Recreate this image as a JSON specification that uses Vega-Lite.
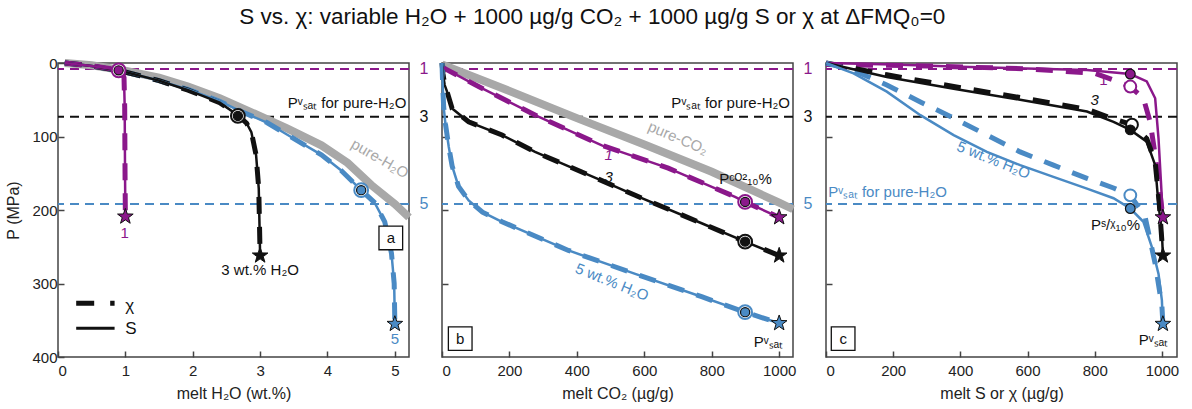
{
  "$schema": "https://vega.github.io/schema/vega-lite/v6.json",
  "title": {"text": "S vs. χ: variable H₂O + 1000 µg/g CO₂ + 1000 µg/g S or χ at ΔFMQ₀=0", "fontSize": 22.5, "fontWeight": "normal", "color": "#111", "anchor": "middle", "offset": 18},
  "config": {
    "font": "Liberation Sans",
    "view": {"stroke": "#444", "strokeWidth": 1.5},
    "axis": {"grid": false, "domain": false, "tickSize": -6, "tickColor": "#444", "tickWidth": 1.5, "labelFontSize": 15, "labelColor": "#222", "titleFontSize": 16, "titleFontWeight": "normal", "titleColor": "#222", "labelPadding": 12, "titlePadding": 7}
  },
  "datasets": {
    "psat": [{"series": "1", "P": 8.2}, {"series": "3", "P": 73}, {"series": "5", "P": 192}],
    "a_curves": [
      {"series": "pure", "x": 0.1, "P": 0}, {"series": "pure", "x": 0.5, "P": 3}, {"series": "pure", "x": 0.94, "P": 9.5}, {"series": "pure", "x": 1.5, "P": 20}, {"series": "pure", "x": 1.93, "P": 32}, {"series": "pure", "x": 2.4, "P": 48}, {"series": "pure", "x": 2.92, "P": 69}, {"series": "pure", "x": 3.4, "P": 89}, {"series": "pure", "x": 3.91, "P": 112}, {"series": "pure", "x": 4.3, "P": 136}, {"series": "pure", "x": 4.65, "P": 166}, {"series": "pure", "x": 5.0, "P": 192}, {"series": "pure", "x": 5.21, "P": 210},
      {"series": "5", "x": 0.1, "P": 0}, {"series": "5", "x": 0.5, "P": 4}, {"series": "5", "x": 0.94, "P": 11}, {"series": "5", "x": 1.5, "P": 24}, {"series": "5", "x": 1.93, "P": 36}, {"series": "5", "x": 2.4, "P": 52}, {"series": "5", "x": 2.72, "P": 66}, {"series": "5", "x": 3.1, "P": 81}, {"series": "5", "x": 3.41, "P": 98}, {"series": "5", "x": 3.91, "P": 125}, {"series": "5", "x": 4.2, "P": 146}, {"series": "5", "x": 4.5, "P": 173}, {"series": "5", "x": 4.7, "P": 190}, {"series": "5", "x": 4.85, "P": 216}, {"series": "5", "x": 4.95, "P": 259}, {"series": "5", "x": 4.99, "P": 300}, {"series": "5", "x": 5.0, "P": 355},
      {"series": "3", "x": 0.1, "P": 0}, {"series": "3", "x": 0.5, "P": 4}, {"series": "3", "x": 0.94, "P": 11}, {"series": "3", "x": 1.5, "P": 24}, {"series": "3", "x": 1.93, "P": 37}, {"series": "3", "x": 2.4, "P": 54}, {"series": "3", "x": 2.67, "P": 71}, {"series": "3", "x": 2.8, "P": 82}, {"series": "3", "x": 2.87, "P": 94}, {"series": "3", "x": 2.94, "P": 125}, {"series": "3", "x": 2.98, "P": 171}, {"series": "3", "x": 3.0, "P": 262},
      {"series": "1", "x": 0.1, "P": 0}, {"series": "1", "x": 0.5, "P": 4}, {"series": "1", "x": 0.85, "P": 8.5}, {"series": "1", "x": 0.95, "P": 12}, {"series": "1", "x": 0.98, "P": 20}, {"series": "1", "x": 0.99, "P": 60}, {"series": "1", "x": 0.995, "P": 150}, {"series": "1", "x": 1.0, "P": 209}
    ],
    "a_legend": [{"kind": "χ", "x": 0.27, "P": 327}, {"kind": "χ", "x": 0.84, "P": 327}, {"kind": "S", "x": 0.27, "P": 361}, {"kind": "S", "x": 0.84, "P": 361}],
    "b_curves": [
      {"series": "pure", "x": 0, "P": 2}, {"series": "pure", "x": 200, "P": 38}, {"series": "pure", "x": 400, "P": 75}, {"series": "pure", "x": 600, "P": 111}, {"series": "pure", "x": 800, "P": 148}, {"series": "pure", "x": 1000, "P": 190}, {"series": "pure", "x": 1041, "P": 199},
      {"series": "1", "x": 0, "P": 5}, {"series": "1", "x": 10, "P": 8}, {"series": "1", "x": 100, "P": 30}, {"series": "1", "x": 286, "P": 73}, {"series": "1", "x": 474, "P": 112}, {"series": "1", "x": 671, "P": 143}, {"series": "1", "x": 869, "P": 182}, {"series": "1", "x": 899, "P": 189}, {"series": "1", "x": 1000, "P": 210},
      {"series": "3", "x": 0, "P": 0}, {"series": "3", "x": 3, "P": 15}, {"series": "3", "x": 8, "P": 30}, {"series": "3", "x": 15, "P": 39}, {"series": "3", "x": 30, "P": 62}, {"series": "3", "x": 79, "P": 80}, {"series": "3", "x": 178, "P": 98}, {"series": "3", "x": 276, "P": 121}, {"series": "3", "x": 474, "P": 160}, {"series": "3", "x": 573, "P": 180}, {"series": "3", "x": 770, "P": 218}, {"series": "3", "x": 899, "P": 243}, {"series": "3", "x": 1000, "P": 262},
      {"series": "5", "x": 0, "P": 0}, {"series": "5", "x": 2, "P": 30}, {"series": "5", "x": 5, "P": 60}, {"series": "5", "x": 10, "P": 82}, {"series": "5", "x": 20, "P": 114}, {"series": "5", "x": 30, "P": 140}, {"series": "5", "x": 49, "P": 168}, {"series": "5", "x": 79, "P": 187}, {"series": "5", "x": 120, "P": 203}, {"series": "5", "x": 178, "P": 216}, {"series": "5", "x": 375, "P": 255}, {"series": "5", "x": 573, "P": 287}, {"series": "5", "x": 770, "P": 318}, {"series": "5", "x": 899, "P": 339}, {"series": "5", "x": 1000, "P": 354}
    ],
    "c_curves": [
      {"series": "1", "kind": "χ", "x": 0, "P": 2}, {"series": "1", "kind": "χ", "x": 300, "P": 4}, {"series": "1", "kind": "χ", "x": 600, "P": 8}, {"series": "1", "kind": "χ", "x": 800, "P": 14}, {"series": "1", "kind": "χ", "x": 856, "P": 23}, {"series": "1", "kind": "χ", "x": 906, "P": 32}, {"series": "1", "kind": "χ", "x": 945, "P": 48}, {"series": "1", "kind": "χ", "x": 965, "P": 80}, {"series": "1", "kind": "χ", "x": 980, "P": 125}, {"series": "1", "kind": "χ", "x": 995, "P": 180}, {"series": "1", "kind": "χ", "x": 1003, "P": 210},
      {"series": "3", "kind": "χ", "x": 0, "P": 0}, {"series": "3", "kind": "χ", "x": 181, "P": 16}, {"series": "3", "kind": "χ", "x": 380, "P": 32}, {"series": "3", "kind": "χ", "x": 578, "P": 47}, {"series": "3", "kind": "χ", "x": 777, "P": 63}, {"series": "3", "kind": "χ", "x": 856, "P": 76}, {"series": "3", "kind": "χ", "x": 911, "P": 84}, {"series": "3", "kind": "χ", "x": 955, "P": 103}, {"series": "3", "kind": "χ", "x": 980, "P": 135}, {"series": "3", "kind": "χ", "x": 992, "P": 190}, {"series": "3", "kind": "χ", "x": 1003, "P": 262},
      {"series": "5", "kind": "χ", "x": 0, "P": 0}, {"series": "5", "kind": "χ", "x": 82, "P": 10}, {"series": "5", "kind": "χ", "x": 181, "P": 30}, {"series": "5", "kind": "χ", "x": 281, "P": 53}, {"series": "5", "kind": "χ", "x": 380, "P": 75}, {"series": "5", "kind": "χ", "x": 479, "P": 98}, {"series": "5", "kind": "χ", "x": 578, "P": 121}, {"series": "5", "kind": "χ", "x": 677, "P": 139}, {"series": "5", "kind": "χ", "x": 777, "P": 157}, {"series": "5", "kind": "χ", "x": 856, "P": 170}, {"series": "5", "kind": "χ", "x": 906, "P": 180}, {"series": "5", "kind": "χ", "x": 950, "P": 209}, {"series": "5", "kind": "χ", "x": 980, "P": 273}, {"series": "5", "kind": "χ", "x": 1000, "P": 330}, {"series": "5", "kind": "χ", "x": 1003, "P": 355},
      {"series": "1", "kind": "S", "x": 0, "P": 0}, {"series": "1", "kind": "S", "x": 200, "P": 2}, {"series": "1", "kind": "S", "x": 400, "P": 5}, {"series": "1", "kind": "S", "x": 777, "P": 9.5}, {"series": "1", "kind": "S", "x": 906, "P": 15}, {"series": "1", "kind": "S", "x": 955, "P": 25}, {"series": "1", "kind": "S", "x": 980, "P": 48}, {"series": "1", "kind": "S", "x": 990, "P": 103}, {"series": "1", "kind": "S", "x": 997, "P": 160}, {"series": "1", "kind": "S", "x": 1003, "P": 210},
      {"series": "3", "kind": "S", "x": 0, "P": 0}, {"series": "3", "kind": "S", "x": 181, "P": 19}, {"series": "3", "kind": "S", "x": 380, "P": 35}, {"series": "3", "kind": "S", "x": 578, "P": 50}, {"series": "3", "kind": "S", "x": 777, "P": 66}, {"series": "3", "kind": "S", "x": 856, "P": 80}, {"series": "3", "kind": "S", "x": 906, "P": 91}, {"series": "3", "kind": "S", "x": 955, "P": 107}, {"series": "3", "kind": "S", "x": 980, "P": 139}, {"series": "3", "kind": "S", "x": 990, "P": 193}, {"series": "3", "kind": "S", "x": 1000, "P": 230}, {"series": "3", "kind": "S", "x": 1003, "P": 262},
      {"series": "5", "kind": "S", "x": 0, "P": 0}, {"series": "5", "kind": "S", "x": 82, "P": 14}, {"series": "5", "kind": "S", "x": 181, "P": 39}, {"series": "5", "kind": "S", "x": 281, "P": 71}, {"series": "5", "kind": "S", "x": 380, "P": 98}, {"series": "5", "kind": "S", "x": 479, "P": 121}, {"series": "5", "kind": "S", "x": 578, "P": 139}, {"series": "5", "kind": "S", "x": 677, "P": 155}, {"series": "5", "kind": "S", "x": 777, "P": 171}, {"series": "5", "kind": "S", "x": 856, "P": 184}, {"series": "5", "kind": "S", "x": 906, "P": 198}, {"series": "5", "kind": "S", "x": 945, "P": 216}, {"series": "5", "kind": "S", "x": 970, "P": 250}, {"series": "5", "kind": "S", "x": 990, "P": 287}, {"series": "5", "kind": "S", "x": 1000, "P": 323}, {"series": "5", "kind": "S", "x": 1003, "P": 355}
    ],
    "a_marks": [
      {"series": "1", "m": "ring", "x": 0.9, "P": 10}, {"series": "1", "m": "dot", "x": 0.9, "P": 10}, {"series": "1", "m": "star", "x": 1.0, "P": 209},
      {"series": "3", "m": "ring", "x": 2.67, "P": 72}, {"series": "3", "m": "dot", "x": 2.67, "P": 72}, {"series": "3", "m": "star", "x": 3.0, "P": 262},
      {"series": "5", "m": "ring", "x": 4.5, "P": 173}, {"series": "5", "m": "dot", "x": 4.5, "P": 173}, {"series": "5", "m": "star", "x": 5.0, "P": 355}
    ],
    "b_marks": [
      {"series": "1", "m": "ring", "x": 899, "P": 189}, {"series": "1", "m": "dot", "x": 899, "P": 189}, {"series": "1", "m": "star", "x": 1000, "P": 210},
      {"series": "3", "m": "ring", "x": 899, "P": 243}, {"series": "3", "m": "dot", "x": 899, "P": 243}, {"series": "3", "m": "star", "x": 1000, "P": 262},
      {"series": "5", "m": "ring", "x": 899, "P": 339}, {"series": "5", "m": "dot", "x": 899, "P": 339}, {"series": "5", "m": "star", "x": 1000, "P": 354}
    ],
    "c_marks": [
      {"series": "1", "m": "ring", "x": 906, "P": 32}, {"series": "1", "m": "dot", "x": 906, "P": 15}, {"series": "1", "m": "star", "x": 1003, "P": 210},
      {"series": "3", "m": "ring", "x": 911, "P": 84}, {"series": "3", "m": "dot", "x": 906, "P": 91}, {"series": "3", "m": "star", "x": 1003, "P": 262},
      {"series": "5", "m": "ring", "x": 906, "P": 180}, {"series": "5", "m": "dot", "x": 906, "P": 198}, {"series": "5", "m": "star", "x": 1003, "P": 355}
    ],
    "a_notes": [
      {"note": "gap", "series": "1", "x": 5.21, "P": 8.2, "label": "1"}, {"note": "gap", "series": "3", "x": 5.21, "P": 73, "label": "3"}, {"note": "gap", "series": "5", "x": 5.21, "P": 192, "label": "5"},
      {"note": "psat_r", "series": "3", "x": 5.17, "P": 54, "label": "Pᵛₛₐₜ for pure-H₂O"},
      {"note": "band", "series": "pure", "x": 4.78, "P": 130, "label": "pure-H₂O"},
      {"note": "plain", "series": "1", "x": 0.99, "P": 231, "label": "1"}, {"note": "plain", "series": "3", "x": 3.0, "P": 282, "label": "3 wt.% H₂O"}, {"note": "plain", "series": "5", "x": 5.0, "P": 375, "label": "5"},
      {"note": "leg", "series": "3", "x": 1.0, "P": 330, "label": "χ"}, {"note": "leg", "series": "3", "x": 1.0, "P": 362, "label": "S"},
      {"note": "box", "series": "3", "x": 4.94, "P": 238, "label": "a"}
    ],
    "b_notes": [
      {"note": "gap", "series": "1", "x": 1041, "P": 8.2, "label": "1"}, {"note": "gap", "series": "3", "x": 1041, "P": 73, "label": "3"}, {"note": "gap", "series": "5", "x": 1041, "P": 192, "label": "5"},
      {"note": "psat_r", "series": "3", "x": 1032, "P": 54, "label": "Pᵛₛₐₜ for pure-H₂O"},
      {"note": "band", "series": "pure", "x": 700, "P": 102, "label": "pure-CO₂"},
      {"note": "ital", "series": "1", "x": 494, "P": 125, "label": "1"}, {"note": "ital", "series": "3", "x": 494, "P": 155, "label": "3"},
      {"note": "plain", "series": "3", "x": 900, "P": 158, "label": "Pᶜᴼ²₁₀%"}, {"note": "plain", "series": "3", "x": 968, "P": 380, "label": "Pᵛₛₐₜ"},
      {"note": "wt", "series": "5", "x": 504, "P": 298, "label": "5 wt.% H₂O"},
      {"note": "box", "series": "3", "x": 54, "P": 375, "label": "b"}
    ],
    "c_notes": [
      {"note": "plain", "series": "1", "x": 826, "P": 23, "label": "1"}, {"note": "plain", "series": "3", "x": 862, "P": 221, "label": "Pˢ/ᵡ₁₀%"}, {"note": "plain", "series": "3", "x": 975, "P": 377, "label": "Pᵛₛₐₜ"},
      {"note": "ital", "series": "3", "x": 800, "P": 50, "label": "3"},
      {"note": "wt", "series": "5", "x": 499, "P": 132, "label": "5 wt.% H₂O"},
      {"note": "psat_l", "series": "5", "x": 7, "P": 175, "label": "Pᵛₛₐₜ for pure-H₂O"},
      {"note": "box", "series": "3", "x": 51, "P": 375, "label": "c"}
    ]
  },
  "spacing": 33,
  "bounds": "flush",
  "hconcat": [
    {
      "width": 351, "height": 294,
      "layer": [
        {"data": {"name": "psat"}, "mark": {"type": "rule", "strokeDash": [9, 6], "strokeWidth": 2},
         "encoding": {"y": {"field": "P", "type": "quantitative", "scale": {"domain": [0, 400], "reverse": true, "nice": false}, "axis": {"title": "P (MPa)", "values": [0, 100, 200, 300, 400], "titlePadding": 10, "labelPadding": 7}},
                      "color": {"field": "series", "type": "nominal", "scale": {"domain": ["1", "3", "5", "pure"], "range": ["#8B188B", "#111111", "#4A8AC4", "#A8A8A8"]}, "legend": null}}},
        {"data": {"name": "a_curves"}, "transform": [{"filter": "datum.series === 'pure'"}], "mark": {"type": "line", "strokeWidth": 8, "color": "#A8A8A8"},
         "encoding": {"x": {"field": "x", "type": "quantitative", "scale": {"domain": [0, 5.21], "nice": false}, "axis": {"title": "melt H₂O (wt.%)", "values": [0, 1, 2, 3, 4, 5], "format": "d"}}, "y": {"field": "P", "type": "quantitative"}}},
        {"data": {"name": "a_curves"}, "transform": [{"filter": "datum.series !== 'pure'"}], "mark": {"type": "line", "strokeDash": [17, 13], "strokeWidth": 5},
         "encoding": {"x": {"field": "x", "type": "quantitative"}, "y": {"field": "P", "type": "quantitative"}, "color": {"field": "series", "type": "nominal", "legend": null}}},
        {"data": {"name": "a_curves"}, "transform": [{"filter": "datum.series !== 'pure'"}], "mark": {"type": "line", "strokeWidth": 2.5},
         "encoding": {"x": {"field": "x", "type": "quantitative"}, "y": {"field": "P", "type": "quantitative"}, "color": {"field": "series", "type": "nominal", "legend": null}}},
        {"data": {"name": "a_legend"}, "transform": [{"filter": "datum.kind === 'χ'"}], "mark": {"type": "line", "strokeDash": [18, 16], "strokeWidth": 5, "color": "#111"},
         "encoding": {"x": {"field": "x", "type": "quantitative"}, "y": {"field": "P", "type": "quantitative"}}},
        {"data": {"name": "a_legend"}, "transform": [{"filter": "datum.kind === 'S'"}], "mark": {"type": "line", "strokeWidth": 3, "color": "#111"},
         "encoding": {"x": {"field": "x", "type": "quantitative"}, "y": {"field": "P", "type": "quantitative"}}},
        {"data": {"name": "a_marks"}, "transform": [{"filter": "datum.m === 'ring'"}], "mark": {"type": "point", "shape": "circle", "filled": false, "fill": "white", "strokeWidth": 2, "size": 190, "opacity": 1},
         "encoding": {"x": {"field": "x", "type": "quantitative"}, "y": {"field": "P", "type": "quantitative"}, "color": {"field": "series", "type": "nominal", "legend": null}}},
        {"data": {"name": "a_marks"}, "transform": [{"filter": "datum.m === 'dot'"}], "mark": {"type": "point", "shape": "circle", "filled": true, "stroke": "#111", "strokeWidth": 1.2, "size": 85, "opacity": 1},
         "encoding": {"x": {"field": "x", "type": "quantitative"}, "y": {"field": "P", "type": "quantitative"}, "color": {"field": "series", "type": "nominal", "legend": null}}},
        {"data": {"name": "a_marks"}, "transform": [{"filter": "datum.m === 'star'"}], "mark": {"type": "point", "shape": "M0,-1L0.235,-0.324L0.951,-0.309L0.38,0.124L0.588,0.809L0,0.4L-0.588,0.809L-0.38,0.124L-0.951,-0.309L-0.235,-0.324Z", "filled": true, "stroke": "#111", "strokeWidth": 1, "size": 270, "opacity": 1},
         "encoding": {"x": {"field": "x", "type": "quantitative"}, "y": {"field": "P", "type": "quantitative"}, "color": {"field": "series", "type": "nominal", "legend": null}}},
        {"data": {"name": "a_notes"}, "transform": [{"filter": "datum.note === 'box'"}], "mark": {"type": "point", "shape": "square", "filled": true, "fill": "white", "stroke": "#111", "strokeWidth": 1.3, "size": 560, "opacity": 1},
         "encoding": {"x": {"field": "x", "type": "quantitative"}, "y": {"field": "P", "type": "quantitative"}}},
        {"data": {"name": "a_notes"}, "transform": [{"filter": "datum.note === 'gap'"}], "mark": {"type": "text", "dx": 15, "fontSize": 16},
         "encoding": {"x": {"field": "x", "type": "quantitative"}, "y": {"field": "P", "type": "quantitative"}, "text": {"field": "label"}, "color": {"field": "series", "type": "nominal", "legend": null}}},
        {"data": {"name": "a_notes"}, "transform": [{"filter": "datum.note === 'plain' || datum.note === 'box'"}], "mark": {"type": "text", "fontSize": 15},
         "encoding": {"x": {"field": "x", "type": "quantitative"}, "y": {"field": "P", "type": "quantitative"}, "text": {"field": "label"}, "color": {"field": "series", "type": "nominal", "legend": null}}},
        {"data": {"name": "a_notes"}, "transform": [{"filter": "datum.note === 'leg'"}], "mark": {"type": "text", "fontSize": 17, "align": "left"},
         "encoding": {"x": {"field": "x", "type": "quantitative"}, "y": {"field": "P", "type": "quantitative"}, "text": {"field": "label"}, "color": {"field": "series", "type": "nominal", "legend": null}}},
        {"data": {"name": "a_notes"}, "transform": [{"filter": "datum.note === 'psat_r'"}], "mark": {"type": "text", "fontSize": 15, "align": "right"},
         "encoding": {"x": {"field": "x", "type": "quantitative"}, "y": {"field": "P", "type": "quantitative"}, "text": {"field": "label"}, "color": {"field": "series", "type": "nominal", "legend": null}}},
        {"data": {"name": "a_notes"}, "transform": [{"filter": "datum.note === 'band'"}], "mark": {"type": "text", "fontSize": 15, "angle": 30},
         "encoding": {"x": {"field": "x", "type": "quantitative"}, "y": {"field": "P", "type": "quantitative"}, "text": {"field": "label"}, "color": {"field": "series", "type": "nominal", "legend": null}}}
      ]
    },
    {
      "width": 351, "height": 294,
      "layer": [
        {"data": {"name": "psat"}, "mark": {"type": "rule", "strokeDash": [9, 6], "strokeWidth": 2},
         "encoding": {"y": {"field": "P", "type": "quantitative", "scale": {"domain": [0, 400], "reverse": true, "nice": false}, "axis": {"title": null, "labels": false, "values": [100, 200, 300]}},
                      "color": {"field": "series", "type": "nominal", "legend": null}}},
        {"data": {"name": "b_curves"}, "transform": [{"filter": "datum.series === 'pure'"}], "mark": {"type": "line", "strokeWidth": 8, "color": "#A8A8A8"},
         "encoding": {"x": {"field": "x", "type": "quantitative", "scale": {"domain": [0, 1041], "nice": false}, "axis": {"title": "melt CO₂ (µg/g)", "values": [0, 200, 400, 600, 800, 1000], "format": "d"}}, "y": {"field": "P", "type": "quantitative"}}},
        {"data": {"name": "b_curves"}, "transform": [{"filter": "datum.series !== 'pure'"}], "mark": {"type": "line", "strokeDash": [17, 13], "strokeWidth": 5},
         "encoding": {"x": {"field": "x", "type": "quantitative"}, "y": {"field": "P", "type": "quantitative"}, "color": {"field": "series", "type": "nominal", "legend": null}}},
        {"data": {"name": "b_curves"}, "transform": [{"filter": "datum.series !== 'pure'"}], "mark": {"type": "line", "strokeWidth": 2.5},
         "encoding": {"x": {"field": "x", "type": "quantitative"}, "y": {"field": "P", "type": "quantitative"}, "color": {"field": "series", "type": "nominal", "legend": null}}},
        {"data": {"name": "b_marks"}, "transform": [{"filter": "datum.m === 'ring'"}], "mark": {"type": "point", "shape": "circle", "filled": false, "fill": "white", "strokeWidth": 2, "size": 190, "opacity": 1},
         "encoding": {"x": {"field": "x", "type": "quantitative"}, "y": {"field": "P", "type": "quantitative"}, "color": {"field": "series", "type": "nominal", "legend": null}}},
        {"data": {"name": "b_marks"}, "transform": [{"filter": "datum.m === 'dot'"}], "mark": {"type": "point", "shape": "circle", "filled": true, "stroke": "#111", "strokeWidth": 1.2, "size": 85, "opacity": 1},
         "encoding": {"x": {"field": "x", "type": "quantitative"}, "y": {"field": "P", "type": "quantitative"}, "color": {"field": "series", "type": "nominal", "legend": null}}},
        {"data": {"name": "b_marks"}, "transform": [{"filter": "datum.m === 'star'"}], "mark": {"type": "point", "shape": "M0,-1L0.235,-0.324L0.951,-0.309L0.38,0.124L0.588,0.809L0,0.4L-0.588,0.809L-0.38,0.124L-0.951,-0.309L-0.235,-0.324Z", "filled": true, "stroke": "#111", "strokeWidth": 1, "size": 270, "opacity": 1},
         "encoding": {"x": {"field": "x", "type": "quantitative"}, "y": {"field": "P", "type": "quantitative"}, "color": {"field": "series", "type": "nominal", "legend": null}}},
        {"data": {"name": "b_notes"}, "transform": [{"filter": "datum.note === 'box'"}], "mark": {"type": "point", "shape": "square", "filled": true, "fill": "white", "stroke": "#111", "strokeWidth": 1.3, "size": 560, "opacity": 1},
         "encoding": {"x": {"field": "x", "type": "quantitative"}, "y": {"field": "P", "type": "quantitative"}}},
        {"data": {"name": "b_notes"}, "transform": [{"filter": "datum.note === 'gap'"}], "mark": {"type": "text", "dx": 15, "fontSize": 16},
         "encoding": {"x": {"field": "x", "type": "quantitative"}, "y": {"field": "P", "type": "quantitative"}, "text": {"field": "label"}, "color": {"field": "series", "type": "nominal", "legend": null}}},
        {"data": {"name": "b_notes"}, "transform": [{"filter": "datum.note === 'plain' || datum.note === 'box'"}], "mark": {"type": "text", "fontSize": 15},
         "encoding": {"x": {"field": "x", "type": "quantitative"}, "y": {"field": "P", "type": "quantitative"}, "text": {"field": "label"}, "color": {"field": "series", "type": "nominal", "legend": null}}},
        {"data": {"name": "b_notes"}, "transform": [{"filter": "datum.note === 'ital'"}], "mark": {"type": "text", "fontSize": 15, "fontStyle": "italic"},
         "encoding": {"x": {"field": "x", "type": "quantitative"}, "y": {"field": "P", "type": "quantitative"}, "text": {"field": "label"}, "color": {"field": "series", "type": "nominal", "legend": null}}},
        {"data": {"name": "b_notes"}, "transform": [{"filter": "datum.note === 'psat_r'"}], "mark": {"type": "text", "fontSize": 15, "align": "right"},
         "encoding": {"x": {"field": "x", "type": "quantitative"}, "y": {"field": "P", "type": "quantitative"}, "text": {"field": "label"}, "color": {"field": "series", "type": "nominal", "legend": null}}},
        {"data": {"name": "b_notes"}, "transform": [{"filter": "datum.note === 'band'"}], "mark": {"type": "text", "fontSize": 15, "angle": 23},
         "encoding": {"x": {"field": "x", "type": "quantitative"}, "y": {"field": "P", "type": "quantitative"}, "text": {"field": "label"}, "color": {"field": "series", "type": "nominal", "legend": null}}},
        {"data": {"name": "b_notes"}, "transform": [{"filter": "datum.note === 'wt'"}], "mark": {"type": "text", "fontSize": 15, "angle": 22},
         "encoding": {"x": {"field": "x", "type": "quantitative"}, "y": {"field": "P", "type": "quantitative"}, "text": {"field": "label"}, "color": {"field": "series", "type": "nominal", "legend": null}}}
      ]
    },
    {
      "width": 351, "height": 294,
      "layer": [
        {"data": {"name": "psat"}, "mark": {"type": "rule", "strokeDash": [9, 6], "strokeWidth": 2},
         "encoding": {"y": {"field": "P", "type": "quantitative", "scale": {"domain": [0, 400], "reverse": true, "nice": false}, "axis": {"title": null, "labels": false, "values": [100, 200, 300]}},
                      "color": {"field": "series", "type": "nominal", "legend": null}}},
        {"data": {"name": "c_curves"}, "transform": [{"filter": "datum.kind === 'χ'"}], "mark": {"type": "line", "strokeDash": [17, 13], "strokeWidth": 5},
         "encoding": {"x": {"field": "x", "type": "quantitative", "scale": {"domain": [0, 1045], "nice": false}, "axis": {"title": "melt S or χ (µg/g)", "values": [0, 200, 400, 600, 800, 1000], "format": "d"}}, "y": {"field": "P", "type": "quantitative"},
                      "color": {"field": "series", "type": "nominal", "legend": null}}},
        {"data": {"name": "c_curves"}, "transform": [{"filter": "datum.kind === 'S'"}], "mark": {"type": "line", "strokeWidth": 2.5},
         "encoding": {"x": {"field": "x", "type": "quantitative"}, "y": {"field": "P", "type": "quantitative"}, "color": {"field": "series", "type": "nominal", "legend": null}}},
        {"data": {"name": "c_marks"}, "transform": [{"filter": "datum.m === 'ring'"}], "mark": {"type": "point", "shape": "circle", "filled": false, "fill": "white", "strokeWidth": 2, "size": 140, "opacity": 1},
         "encoding": {"x": {"field": "x", "type": "quantitative"}, "y": {"field": "P", "type": "quantitative"}, "color": {"field": "series", "type": "nominal", "legend": null}}},
        {"data": {"name": "c_marks"}, "transform": [{"filter": "datum.m === 'dot'"}], "mark": {"type": "point", "shape": "circle", "filled": true, "stroke": "#111", "strokeWidth": 1.2, "size": 95, "opacity": 1},
         "encoding": {"x": {"field": "x", "type": "quantitative"}, "y": {"field": "P", "type": "quantitative"}, "color": {"field": "series", "type": "nominal", "legend": null}}},
        {"data": {"name": "c_marks"}, "transform": [{"filter": "datum.m === 'star'"}], "mark": {"type": "point", "shape": "M0,-1L0.235,-0.324L0.951,-0.309L0.38,0.124L0.588,0.809L0,0.4L-0.588,0.809L-0.38,0.124L-0.951,-0.309L-0.235,-0.324Z", "filled": true, "stroke": "#111", "strokeWidth": 1, "size": 270, "opacity": 1},
         "encoding": {"x": {"field": "x", "type": "quantitative"}, "y": {"field": "P", "type": "quantitative"}, "color": {"field": "series", "type": "nominal", "legend": null}}},
        {"data": {"name": "c_notes"}, "transform": [{"filter": "datum.note === 'box'"}], "mark": {"type": "point", "shape": "square", "filled": true, "fill": "white", "stroke": "#111", "strokeWidth": 1.3, "size": 560, "opacity": 1},
         "encoding": {"x": {"field": "x", "type": "quantitative"}, "y": {"field": "P", "type": "quantitative"}}},
        {"data": {"name": "c_notes"}, "transform": [{"filter": "datum.note === 'plain' || datum.note === 'box'"}], "mark": {"type": "text", "fontSize": 15},
         "encoding": {"x": {"field": "x", "type": "quantitative"}, "y": {"field": "P", "type": "quantitative"}, "text": {"field": "label"}, "color": {"field": "series", "type": "nominal", "legend": null}}},
        {"data": {"name": "c_notes"}, "transform": [{"filter": "datum.note === 'ital'"}], "mark": {"type": "text", "fontSize": 15, "fontStyle": "italic"},
         "encoding": {"x": {"field": "x", "type": "quantitative"}, "y": {"field": "P", "type": "quantitative"}, "text": {"field": "label"}, "color": {"field": "series", "type": "nominal", "legend": null}}},
        {"data": {"name": "c_notes"}, "transform": [{"filter": "datum.note === 'psat_l'"}], "mark": {"type": "text", "fontSize": 15, "align": "left"},
         "encoding": {"x": {"field": "x", "type": "quantitative"}, "y": {"field": "P", "type": "quantitative"}, "text": {"field": "label"}, "color": {"field": "series", "type": "nominal", "legend": null}}},
        {"data": {"name": "c_notes"}, "transform": [{"filter": "datum.note === 'wt'"}], "mark": {"type": "text", "fontSize": 15, "angle": 22},
         "encoding": {"x": {"field": "x", "type": "quantitative"}, "y": {"field": "P", "type": "quantitative"}, "text": {"field": "label"}, "color": {"field": "series", "type": "nominal", "legend": null}}}
      ]
    }
  ]
}
